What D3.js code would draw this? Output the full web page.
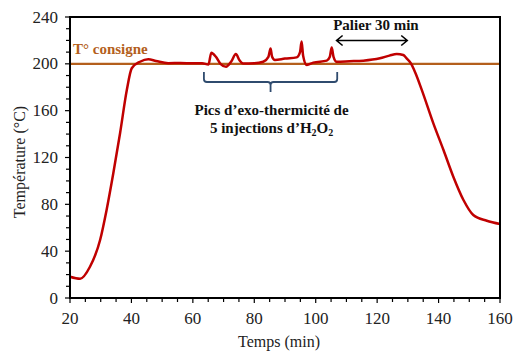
<!DOCTYPE html>
<html><head><meta charset="utf-8">
<script src="https://cdn.jsdelivr.net/npm/d3@7"></script>
<style>body{margin:0;background:#fff}svg{display:block}svg text{font-family:"Liberation Serif","Times New Roman",Times,serif}</style>
</head><body>
<script>
const time = [20, 23.3, 26.5, 29.8, 31.9, 34.1, 36.3, 38.5, 40.1, 42.8, 45.5, 48, 52, 56, 60, 63, 65.1, 66.0, 67.5, 69, 70.8, 72.5, 74.0, 75.2, 76.4, 80, 82.9, 84.6, 85.3, 85.8, 86.7, 90, 93.8, 94.9, 95.4, 95.9, 97.1, 99.2, 103.6, 104.6, 105.2, 105.8, 106.8, 111, 115.5, 120.9, 124, 126.4, 128.5, 129.6, 131, 132.5, 134.5, 138.3, 141.6, 144.8, 148.1, 151.3, 155.7, 160];
const temperature = [18.2, 16.5, 26.7, 49.5, 75, 106.5, 140.7, 177.6, 196.2, 201.8, 203.9, 202.5, 200.6, 200.8, 200.4, 200.5, 199.5, 209.5, 206, 200, 197.5, 202, 208.3, 203, 200.3, 200.5, 201.8, 206, 213, 206, 203.3, 204.5, 205.5, 210, 219, 207, 199, 201, 202.7, 206, 214, 206, 201.8, 202.2, 202.7, 204.7, 207, 208.4, 207.5, 204.7, 200.4, 192, 178, 149.2, 126.4, 103.6, 83.7, 70.9, 66, 63.2];
const setpoint = 200;
const xTicks = [20, 40, 60, 80, 100, 120, 140, 160];
const yTicks = [0, 40, 80, 120, 160, 200, 240];
const xLabel = "Temps (min)";
const yLabel = "Température (°C)";
const setpointLabel = "T° consigne";
const plateauLabel = "Palier 30 min";
const plateauRange = [106.8, 129.8];
const peaksRange = [63.6, 107.0];
const peaksLines = ["Pics d’exo-thermicité de", "5 injections d’H"];

const W = 513, H = 352;
const m = {l: 70, t: 17, r: 13, b: 54};
const svg = d3.select("body").append("svg").attr("width", W).attr("height", H);
const x = d3.scaleLinear().domain([20, 160]).range([m.l, W - m.r]);
const y = d3.scaleLinear().domain([0, 240]).range([H - m.b, m.t]);

// minor ticks
const g = svg.append("g");
g.selectAll(".ym").data(d3.range(0, 241, 10)).join("line")
  .attr("x1", m.l).attr("x2", d => m.l - (d % 40 === 0 ? 5 : 4))
  .attr("y1", d => y(d)).attr("y2", d => y(d)).attr("stroke", "#000").attr("stroke-width", 1.2);
g.selectAll(".xm").data(d3.range(20, 161, 5)).join("line")
  .attr("y1", y(0)).attr("y2", d => y(0) + (d % 20 === 0 ? 5 : 4))
  .attr("x1", d => x(d)).attr("x2", d => x(d)).attr("stroke", "#000").attr("stroke-width", 1.2);

// tick labels
svg.append("g").selectAll("text").data(yTicks).join("text")
  .attr("x", m.l - 12).attr("y", d => y(d) + 5.5).attr("text-anchor", "end")
  .attr("font-size", 17).attr("fill", "#222").text(d => d);
svg.append("g").selectAll("text").data(xTicks).join("text")
  .attr("x", d => x(d)).attr("y", y(0) + 26).attr("text-anchor", "middle")
  .attr("font-size", 17).attr("fill", "#222").text(d => d);

// axis titles
svg.append("text").attr("x", 279).attr("y", 347).attr("text-anchor", "middle")
  .attr("font-size", 16).attr("fill", "#222").text(xLabel);
svg.append("text").attr("transform", `translate(25,162) rotate(-90)`)
  .attr("text-anchor", "middle").attr("font-size", 16).attr("fill", "#222").text(yLabel);

// setpoint line
svg.append("line").attr("x1", x(20)).attr("x2", x(160)).attr("y1", y(setpoint)).attr("y2", y(setpoint))
  .attr("stroke", "#b45f1c").attr("stroke-width", 2.2);
svg.append("text").attr("x", x(20) + 3).attr("y", 54).attr("font-size", 15).attr("font-weight", "bold")
  .attr("fill", "#b45f1c").text(setpointLabel);

// curve
const pts = time.map((t, i) => [t, temperature[i]]);
svg.append("path").datum(pts)
  .attr("d", d3.line().x(d => x(d[0])).y(d => y(d[1])).curve(d3.curveMonotoneX))
  .attr("fill", "none").attr("stroke", "#c00000").attr("stroke-width", 2.5).attr("stroke-linejoin", "round");

// frame
svg.append("rect").attr("x", m.l).attr("y", m.t).attr("width", W - m.r - m.l).attr("height", H - m.b - m.t)
  .attr("fill", "none").attr("stroke", "#000").attr("stroke-width", 2);

// brace
const bx0 = x(peaksRange[0]), bx1 = x(peaksRange[1]), bm = (bx0 + bx1) / 2;
const by0 = 72, by1 = 82, r = 3;
svg.append("path").attr("d",
  `M${bx0},${by0} V${by1 - r} Q${bx0},${by1} ${bx0 + r},${by1} H${bm - 3} Q${bm},${by1} ${bm},${by1 + 3} V${by1 + 10}` +
  ` M${bm},${by1 + 3} Q${bm},${by1} ${bm + 3},${by1} H${bx1 - r} Q${bx1},${by1} ${bx1},${by1 - r} V${by0}`)
  .attr("fill", "none").attr("stroke", "#2f4b6e").attr("stroke-width", 1.8);

const t1 = svg.append("text").attr("x", bm + 1).attr("y", 115).attr("text-anchor", "middle")
  .attr("font-size", 15).attr("font-weight", "bold").attr("fill", "#111").text(peaksLines[0]);
const t2 = svg.append("text").attr("x", bm + 1).attr("y", 133).attr("text-anchor", "middle")
  .attr("font-size", 15).attr("font-weight", "bold").attr("fill", "#111");
t2.append("tspan").text(peaksLines[1]);
t2.append("tspan").attr("font-size", 10).attr("dy", 3).text("2");
t2.append("tspan").attr("dy", -3).text("O");
t2.append("tspan").attr("font-size", 10).attr("dy", 3).text("2");

// plateau arrow
const ax0 = x(plateauRange[0]), ax1 = x(plateauRange[1]), ay = 40.5;
svg.append("path").attr("d",
  `M${ax0},${ay} H${ax1} M${ax0 + 6},${ay - 5} L${ax0},${ay} L${ax0 + 6},${ay + 5} M${ax1 - 6},${ay - 5} L${ax1},${ay} L${ax1 - 6},${ay + 5}`)
  .attr("fill", "none").attr("stroke", "#000").attr("stroke-width", 1.6);
svg.append("text").attr("x", (ax0 + ax1) / 2 + 4).attr("y", 30).attr("text-anchor", "middle")
  .attr("font-size", 15).attr("font-weight", "bold").attr("fill", "#111").text(plateauLabel);
</script>
</body></html>
